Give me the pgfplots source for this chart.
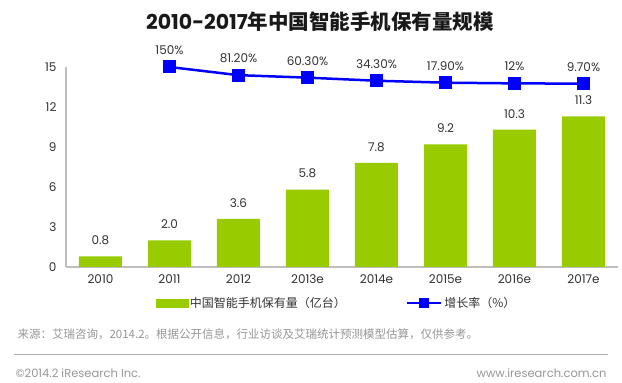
\documentclass[border=0pt]{standalone}
\usepackage{fontspec}
\setmainfont{Poppins}
\newfontfamily\cjk{Noto Sans CJK SC}
\usepackage{pgfplots}
\pgfplotsset{compat=1.18}
\definecolor{barg}{RGB}{153,204,0}
\definecolor{lineb}{RGB}{0,0,255}
\definecolor{axg}{RGB}{190,190,190}
\definecolor{srcg}{RGB}{150,150,150}
\definecolor{txt}{RGB}{50,50,50}
\begin{document}
\begin{tikzpicture}
\begin{axis}[name=main, scale only axis, width=552pt, height=200pt,
 xmin=-0.5, xmax=7.5, ymin=0, ymax=15, ytick={0,3,...,15}, xtick={0,...,7},
 xticklabels={2010,2011,2012,2013e,2014e,2015e,2016e,2017e},
 axis x line=bottom, axis y line=left, axis line style={axg, line width=1.5pt, -},
 major tick length=0pt, tick style={draw=none},
 ticklabel style={font=\fontsize{12}{12}\selectfont, text=txt},
 yticklabel style={xshift=-6pt}, xticklabel style={yshift=-4pt},
 /pgf/number format/assume math mode=true,
 clip=false]
\addplot[ybar, bar width=43pt, fill=barg, draw=none,
 nodes near coords={\pgfmathprintnumber[fixed,fixed zerofill,precision=1,assume math mode=true]{\pgfplotspointmeta}},
 every node near coord/.append style={font=\fontsize{12}{12}\selectfont, text=txt, yshift=8pt}]
 coordinates {(0,0.8) (1,2.0) (2,3.6) (3,5.8) (4,7.8) (5,9.2) (6,10.3) (7,11.3)};
\end{axis}
\begin{axis}[scale only axis, width=552pt, height=200pt,
 xmin=-0.5, xmax=7.5, ymin=-1535, ymax=150, hide axis, clip=false,
 legend style={at={(0.49,-0.18)}, anchor=center, draw=none, fill=none, legend columns=2,
   font=\fontsize{12}{12}\selectfont, text=txt,
   /tikz/every even column/.append style={column sep=58pt}},
 legend cell align=left]
\addlegendimage{legend image code/.code={\fill[barg] (0pt,-4pt) rectangle (32pt,4pt);}}
\addlegendentry{\cjk 中国智能手机保有量（亿台）}
\addplot[lineb, line width=2.5pt, mark=square*, mark size=6pt, mark options={solid, fill=lineb, line width=0pt},
 point meta=explicit symbolic, nodes near coords,
 every node near coord/.append style={font=\fontsize{12}{12}\selectfont, text=txt, yshift=9pt},
 legend image code/.code={\draw[lineb, line width=2.5pt] (0pt,0pt) -- (34pt,0pt); \fill[lineb] (13pt,-3.5pt) rectangle (21pt,3.5pt);}]
 coordinates {(1,150) [150\%] (2,81.2) [81.20\%] (3,60.3) [60.30\%] (4,34.3) [34.30\%] (5,17.9) [17.90\%] (6,12) [12\%] (7,9.7) [9.70\%]};
\addlegendentry{\cjk 增长率（\%）}
\end{axis}
\pgfresetboundingbox
\path[use as bounding box] ([xshift=-66pt,yshift=267pt]main.south west) rectangle ([xshift=556pt,yshift=-116pt]main.south west);
\node[font=\fontsize{20.5}{20.5}\selectfont\bfseries, text=black!90] at ([xshift=254pt,yshift=245pt]main.south west) {2010-2017{\cjk\bfseries 年中国智能手机保有量规模}};
\node[anchor=west, font=\fontsize{11.5}{11.5}\selectfont\cjk, text=srcg] at ([xshift=-52pt,yshift=-67pt]main.south west) {来源：艾瑞咨询，2014.2。根据公开信息，行业访谈及艾瑞统计预测模型估算，仅供参考。};
\draw[srcg!80, line width=0.8pt] ([xshift=-52pt,yshift=-87pt]main.south west) -- ([xshift=542pt,yshift=-87pt]main.south west);
\node[anchor=west, font=\fontsize{11.5}{11.5}\selectfont, text=srcg] at ([xshift=-54pt,yshift=-106pt]main.south west) {©2014.2 iResearch Inc.};
\node[anchor=east, font=\fontsize{11.5}{11.5}\selectfont, text=srcg] at ([xshift=544pt,yshift=-106pt]main.south west) {www.iresearch.com.cn};
\end{tikzpicture}
\end{document}
